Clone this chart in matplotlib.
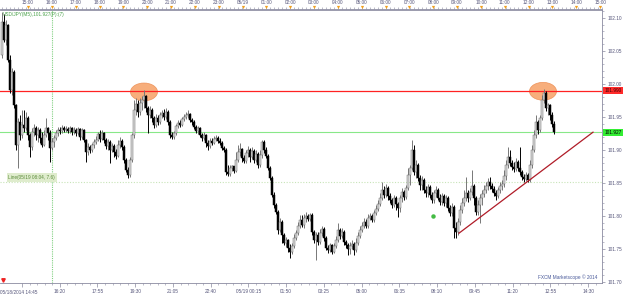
import numpy as np
import matplotlib
matplotlib.use("Agg")
import matplotlib.pyplot as plt
from matplotlib.patches import Ellipse
from matplotlib.ticker import FixedLocator, MultipleLocator
from matplotlib.transforms import blended_transform_factory as blend

plt.rcParams["font.family"] = ["Liberation Sans", "DejaVu Sans"]

# USD/JPY 5-minute candles (open of each bar = previous close)
OPEN0 = 102.044
CLOSE = [
    102.094, 102.067, 102.089, 102.036, 101.991, 102.018, 101.968, 101.908, 101.942, 101.923,
    101.938, 101.933, 101.949, 101.923, 101.905, 101.927, 101.933, 101.923, 101.930, 101.918,
    101.908, 101.923, 101.933, 101.926, 101.903, 101.912, 101.918, 101.926, 101.930, 101.929,
    101.933, 101.930, 101.932, 101.929, 101.933, 101.927, 101.930, 101.926, 101.932, 101.920,
    101.930, 101.915, 101.897, 101.905, 101.900, 101.908, 101.912, 101.915, 101.924, 101.917,
    101.926, 101.915, 101.906, 101.912, 101.900, 101.906, 101.897, 101.891, 101.908, 101.914,
    101.905, 101.885, 101.870, 101.862, 101.885, 101.923, 101.961, 101.970, 101.958, 101.971,
    101.976, 101.982, 101.964, 101.953, 101.961, 101.949, 101.938, 101.949, 101.942, 101.953,
    101.956, 101.950, 101.958, 101.942, 101.923, 101.920, 101.926, 101.936, 101.941, 101.938,
    101.947, 101.950, 101.953, 101.955, 101.945, 101.942, 101.935, 101.929, 101.933, 101.923,
    101.918, 101.923, 101.911, 101.906, 101.914, 101.911, 101.917, 101.918, 101.914, 101.911,
    101.903, 101.900, 101.867, 101.864, 101.873, 101.876, 101.868, 101.885, 101.897, 101.902,
    101.888, 101.883, 101.895, 101.900, 101.889, 101.899, 101.885, 101.894, 101.877, 101.892,
    101.912, 101.900, 101.891, 101.873, 101.858, 101.832, 101.817, 101.806, 101.779, 101.791,
    101.771, 101.759, 101.764, 101.752, 101.746, 101.755, 101.767, 101.774, 101.785, 101.794,
    101.786, 101.797, 101.800, 101.795, 101.802, 101.776, 101.764, 101.771, 101.761, 101.774,
    101.780, 101.767, 101.752, 101.749, 101.756, 101.746, 101.755, 101.764, 101.779, 101.770,
    101.776, 101.761, 101.756, 101.750, 101.755, 101.758, 101.749, 101.759, 101.770, 101.779,
    101.785, 101.791, 101.785, 101.797, 101.800, 101.794, 101.805, 101.811, 101.818, 101.827,
    101.839, 101.832, 101.842, 101.830, 101.824, 101.817, 101.827, 101.818, 101.812, 101.827,
    101.836, 101.829, 101.842, 101.862, 101.873, 101.900, 101.867, 101.877, 101.858, 101.847,
    101.855, 101.839, 101.835, 101.844, 101.832, 101.824, 101.835, 101.839, 101.827, 101.821,
    101.830, 101.820, 101.827, 101.812, 101.805, 101.814, 101.782, 101.776, 101.791, 101.809,
    101.820, 101.827, 101.835, 101.827, 101.836, 101.845, 101.827, 101.806, 101.817, 101.827,
    101.833, 101.839, 101.845, 101.852, 101.845, 101.841, 101.835, 101.830, 101.839, 101.845,
    101.848, 101.861, 101.877, 101.889, 101.880, 101.874, 101.871, 101.882, 101.873, 101.867,
    101.859, 101.856, 101.862, 101.855, 101.877, 101.900, 101.923, 101.942, 101.930, 101.949,
    101.976, 101.986, 101.964, 101.968, 101.953, 101.940, 101.927,
]
HIGH = [
    102.109, 102.106, 102.097, 102.091, 102.044, 102.024, 102.021, 101.970, 101.949, 101.953,
    101.961, 101.961, 101.958, 101.952, 101.926, 101.933, 101.940, 101.936, 101.935, 101.933,
    101.927, 101.930, 101.949, 101.935, 101.930, 101.918, 101.923, 101.930, 101.935, 101.935,
    101.938, 101.936, 101.936, 101.935, 101.936, 101.935, 101.935, 101.933, 101.935, 101.933,
    101.933, 101.932, 101.917, 101.911, 101.908, 101.911, 101.917, 101.921, 101.927, 101.930,
    101.930, 101.927, 101.918, 101.917, 101.915, 101.911, 101.909, 101.902, 101.915, 101.920,
    101.917, 101.908, 101.888, 101.874, 101.889, 101.926, 101.976, 101.979, 101.976, 101.979,
    101.982, 101.991, 101.983, 101.967, 101.967, 101.964, 101.952, 101.955, 101.953, 101.958,
    101.961, 101.962, 101.964, 101.961, 101.945, 101.927, 101.929, 101.940, 101.945, 101.945,
    101.950, 101.955, 101.958, 101.961, 101.956, 101.949, 101.945, 101.938, 101.936, 101.935,
    101.926, 101.927, 101.924, 101.915, 101.918, 101.918, 101.921, 101.923, 101.921, 101.918,
    101.914, 101.906, 101.903, 101.877, 101.877, 101.877, 101.876, 101.897, 101.908, 101.911,
    101.903, 101.892, 101.900, 101.906, 101.903, 101.905, 101.902, 101.900, 101.897, 101.900,
    101.915, 101.915, 101.905, 101.894, 101.876, 101.861, 101.836, 101.820, 101.809, 101.797,
    101.794, 101.774, 101.768, 101.765, 101.758, 101.759, 101.773, 101.779, 101.791, 101.802,
    101.802, 101.803, 101.806, 101.803, 101.805, 101.805, 101.779, 101.776, 101.776, 101.780,
    101.785, 101.783, 101.770, 101.756, 101.759, 101.758, 101.759, 101.770, 101.789, 101.782,
    101.782, 101.779, 101.764, 101.759, 101.761, 101.764, 101.761, 101.767, 101.776, 101.785,
    101.791, 101.797, 101.795, 101.803, 101.805, 101.803, 101.809, 101.817, 101.824, 101.835,
    101.852, 101.845, 101.848, 101.845, 101.835, 101.827, 101.832, 101.830, 101.821, 101.832,
    101.842, 101.839, 101.847, 101.873, 101.877, 101.915, 101.908, 101.885, 101.880, 101.862,
    101.861, 101.858, 101.845, 101.848, 101.847, 101.836, 101.839, 101.845, 101.842, 101.833,
    101.835, 101.833, 101.832, 101.830, 101.817, 101.820, 101.817, 101.791, 101.797, 101.817,
    101.827, 101.839, 101.859, 101.839, 101.842, 101.870, 101.848, 101.830, 101.824, 101.833,
    101.839, 101.847, 101.852, 101.858, 101.859, 101.850, 101.845, 101.839, 101.844, 101.852,
    101.855, 101.870, 101.885, 101.905, 101.900, 101.885, 101.882, 101.888, 101.885, 101.905,
    101.870, 101.864, 101.867, 101.865, 101.885, 101.908, 101.930, 101.953, 101.945, 101.953,
    101.983, 101.992, 101.989, 101.971, 101.970, 101.958, 101.944,
]
LOW = [
    102.039, 102.064, 102.059, 102.033, 101.986, 101.983, 101.964, 101.900, 101.873, 101.915,
    101.918, 101.927, 101.930, 101.915, 101.889, 101.900, 101.921, 101.915, 101.912, 101.911,
    101.905, 101.906, 101.920, 101.915, 101.882, 101.900, 101.905, 101.915, 101.921, 101.924,
    101.926, 101.927, 101.927, 101.926, 101.926, 101.923, 101.924, 101.921, 101.923, 101.915,
    101.917, 101.912, 101.882, 101.892, 101.895, 101.897, 101.903, 101.909, 101.914, 101.912,
    101.915, 101.911, 101.902, 101.900, 101.880, 101.897, 101.889, 101.886, 101.889, 101.903,
    101.900, 101.880, 101.867, 101.858, 101.859, 101.882, 101.918, 101.953, 101.950, 101.953,
    101.961, 101.964, 101.958, 101.926, 101.949, 101.942, 101.933, 101.935, 101.938, 101.940,
    101.949, 101.945, 101.947, 101.938, 101.918, 101.917, 101.917, 101.923, 101.933, 101.935,
    101.936, 101.944, 101.947, 101.949, 101.942, 101.938, 101.932, 101.926, 101.924, 101.920,
    101.914, 101.915, 101.905, 101.900, 101.903, 101.908, 101.909, 101.914, 101.911, 101.908,
    101.900, 101.897, 101.862, 101.861, 101.861, 101.868, 101.865, 101.867, 101.882, 101.891,
    101.882, 101.880, 101.880, 101.889, 101.882, 101.886, 101.880, 101.882, 101.873, 101.874,
    101.888, 101.895, 101.888, 101.870, 101.855, 101.829, 101.812, 101.803, 101.773, 101.776,
    101.759, 101.756, 101.753, 101.746, 101.737, 101.743, 101.752, 101.764, 101.771, 101.782,
    101.783, 101.782, 101.791, 101.792, 101.792, 101.771, 101.759, 101.734, 101.756, 101.758,
    101.770, 101.762, 101.749, 101.744, 101.746, 101.743, 101.744, 101.752, 101.761, 101.765,
    101.767, 101.756, 101.752, 101.741, 101.743, 101.750, 101.741, 101.746, 101.756, 101.767,
    101.776, 101.782, 101.782, 101.782, 101.794, 101.791, 101.791, 101.802, 101.808, 101.815,
    101.824, 101.827, 101.829, 101.824, 101.820, 101.812, 101.814, 101.809, 101.799, 101.806,
    101.821, 101.824, 101.826, 101.839, 101.847, 101.870, 101.862, 101.858, 101.853, 101.839,
    101.839, 101.835, 101.829, 101.829, 101.827, 101.820, 101.820, 101.829, 101.824, 101.817,
    101.817, 101.815, 101.814, 101.808, 101.800, 101.800, 101.767, 101.767, 101.771, 101.786,
    101.805, 101.815, 101.823, 101.821, 101.824, 101.832, 101.817, 101.802, 101.802, 101.789,
    101.817, 101.829, 101.835, 101.839, 101.841, 101.836, 101.830, 101.824, 101.827, 101.835,
    101.839, 101.844, 101.855, 101.873, 101.876, 101.870, 101.867, 101.868, 101.868, 101.862,
    101.855, 101.852, 101.853, 101.852, 101.852, 101.873, 101.897, 101.918, 101.924, 101.927,
    101.945, 101.971, 101.959, 101.953, 101.945, 101.935, 101.924,
]

RESIST = 101.990          # red horizontal line
LAST = 101.927            # current price (green line)
HLINE = 101.852           # dotted line
TREND_X = [228.5, 295.5]  # rising trend line (bar index)
TREND_Y = [101.774, 101.927]
PEAK_X = [71, 270.5]      # highlighted double top
PEAK_Y = [101.988, 101.989]
DOT_X, DOT_Y = 215.5, 101.800
VLINE_X = 25

PRICE_TICKS = [101.70, 101.75, 101.80, 101.85, 101.90, 101.95, 102.00, 102.05, 102.10]
TOP_LABELS = ["15:00", "16:00", "17:00", "18:00", "19:00", "20:00", "21:00", "22:00", "23:00",
              "05/19", "01:00", "02:00", "03:00", "04:00", "05:00", "06:00", "07:00", "08:00",
              "09:00", "10:00", "11:00", "12:00", "13:00", "14:00", "15:00"]
BOTTOM_LABELS = ["05/18/2014 14:45", "16:20", "17:55", "19:30", "21:05", "22:40", "05/19 00:15",
                 "01:50", "03:25", "05:00", "06:35", "08:10", "09:45", "11:20", "12:55", "14:30"]

c = np.array(CLOSE); h = np.array(HIGH); l = np.array(LOW)
o = np.r_[OPEN0, c[:-1]]
x = np.arange(len(c))
up = c >= o

AXC = "#8a8aa0"
TXC = "#55557a"
FS = 3.4

fig = plt.figure(figsize=(6.25, 2.96), dpi=100)
ax = fig.add_axes([0, 1 - 283 / 296, 602 / 625, (283 - 9.5) / 296])
ax.set_xlim(-1, 300)
ax.set_ylim(101.6985, 102.1129)

# highlights and lines
for px, py in zip(PEAK_X, PEAK_Y):
    ax.add_patch(Ellipse((px, py), 13.5, 0.027, facecolor="#f7a56e", edgecolor="#ec8c50",
                         lw=0.5, alpha=0.9, zorder=1))
ax.axhline(RESIST, color="#ff2222", lw=0.9, zorder=1.5)
ax.axhline(LAST, color="#88e888", lw=0.8, zorder=1.5)
ax.axhline(HLINE, color="#c8e4b8", lw=0.8, ls=(0, (1, 1.5)), zorder=1.2)
ax.axvline(VLINE_X, color="#80d080", lw=0.8, ls=(0, (1, 1)), zorder=1.2)

# candles
ax.vlines(x[up], l[up], h[up], color="#777777", lw=0.7, zorder=2)
ax.vlines(x[~up], l[~up], h[~up], color="black", lw=0.7, zorder=2)
ax.bar(x, c - o, bottom=o, width=0.75, color=np.where(up, "#d8d8d8", "black"),
       edgecolor=np.where(up, "#6e6e6e", "black"), linewidth=0.35, zorder=3)

ax.plot(TREND_X, TREND_Y, color="#b01c28", lw=0.9, zorder=4)
ax.plot([DOT_X], [DOT_Y], "o", ms=2.2, color="#44bb44", zorder=4)

# axes styling
ax.spines["left"].set_visible(False)
for s in ("top", "bottom", "right"):
    ax.spines[s].set_color(AXC)
    ax.spines[s].set_linewidth(0.6)

ax.yaxis.tick_right()
ax.set_yticks(PRICE_TICKS, [f"{v:.2f}" for v in PRICE_TICKS])
ax.yaxis.set_minor_locator(MultipleLocator(0.01))
ax.tick_params(axis="y", which="major", length=2.5, width=0.5, color=AXC, labelsize=FS,
               labelcolor=TXC, pad=1.5)
ax.tick_params(axis="y", which="minor", length=1.2, width=0.4, color=AXC)

bot_pos = [10 + 18.87 * k for k in range(len(BOTTOM_LABELS))]
ax.set_xticks(bot_pos, [""] + BOTTOM_LABELS[1:])
ax.xaxis.set_minor_locator(FixedLocator([10 + 3.774 * k for k in range(79)]))
ax.tick_params(axis="x", which="major", length=3, width=0.5, color=AXC, labelsize=FS,
               labelcolor=TXC, pad=1.5)
ax.tick_params(axis="x", which="minor", length=1.4, width=0.4, color=AXC)
ax.text(0.0, -0.025, BOTTOM_LABELS[0], transform=ax.transAxes, ha="left", va="top",
        fontsize=FS, color=TXC)

top_pos = [13 + 11.92 * k for k in range(len(TOP_LABELS))]
sec = ax.secondary_xaxis("top")
sec.set_xticks(top_pos, TOP_LABELS)
sec.xaxis.set_minor_locator(MultipleLocator(2))
sec.tick_params(which="major", length=0, labelsize=FS, labelcolor=TXC, pad=3)
sec.tick_params(which="minor", length=1.3, width=0.4, color=AXC)
sec.spines["top"].set_color(AXC)
sec.spines["top"].set_linewidth(0.6)
ax.plot(top_pos, [1.008] * len(top_pos), "v", ms=2.3, color="#f0a020", mec="none",
        transform=blend(ax.transData, ax.transAxes), clip_on=False, zorder=5)

# price flags on the right axis
yblend = blend(ax.transAxes, ax.transData)
ax.text(1.004, RESIST, "101.990", transform=yblend, ha="left", va="center", fontsize=FS,
        color="#3a0000", bbox=dict(boxstyle="square,pad=0.25", fc="#ff2a2a", ec="none"))
ax.text(1.004, LAST, "101.927", transform=yblend, ha="left", va="center", fontsize=FS,
        color="black", bbox=dict(boxstyle="square,pad=0.25", fc="#33ee33", ec="none"))

# annotations
ax.text(0.004, 0.99, "USD/JPY(M5),101.927(P):(7)", transform=ax.transAxes, ha="left",
        va="top", fontsize=FS, color="#48a048")
ax.text(3.2, 101.8585, "Line(05/19 08:04, 7.6)", ha="left", va="center", fontsize=FS,
        color="#5a8a3a", bbox=dict(boxstyle="square,pad=0.35", fc="#dfeccd", ec="none"),
        zorder=4)
ax.text(0.993, 0.012, "FXCM Marketscope \u00a9 2014", transform=ax.transAxes, ha="right",
        va="bottom", fontsize=FS, color="#4a5a9a")
ax.plot([0.005], [0.012], "v", ms=2.5, color="#ee2222", transform=ax.transAxes,
        clip_on=False, zorder=5)

fig.savefig("out.png", dpi=100)
